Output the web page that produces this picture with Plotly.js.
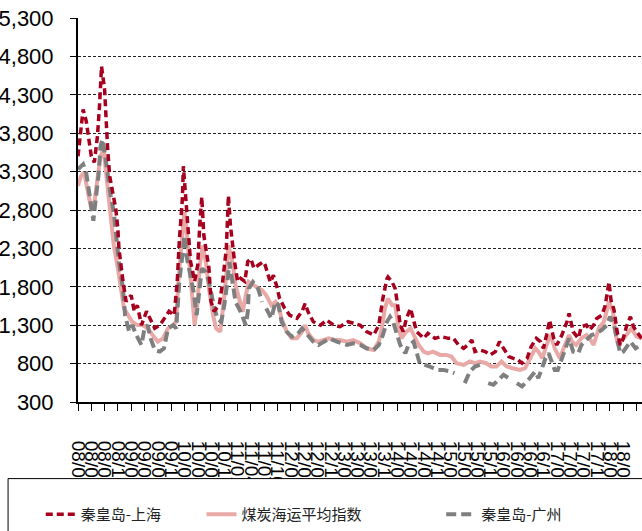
<!DOCTYPE html>
<html><head><meta charset="utf-8">
<script src="https://cdn.plot.ly/plotly-3.0.1.min.js"></script>
<style>html,body{margin:0;padding:0;background:#fff}#chart{width:642px;height:531px}</style>
</head><body><div id="chart"></div>
<script>
// x = weeks since the first observation (early Jan 2008)
const shWeeks = [0,1,3,5,8,11,13,16,19,21,22,23,26,27,29,31,34,37,39,40,44,47,52,55,58,62,67,72,75,80,85,89,94,97,99,102,103,105,107,109,110,114,117,119,121,123,125,128,130,133,138,141,145,147,149,151,153,156,159,163,166,169,172,176,181,183,188,191,194,197,202,207,214,219,222,225,230,237,243,250,256,264,269,276,282,289,294,296,298,302,303,307,310,312,315,318,321,325,328,331,338,342,349,355,362,367,372,377,381,385,388,393,398,403,408,412,416,421,425,430,434,439,443,448,452,455,458,461,465,468,473,478,480,484,489,492,497,500,504,507,512,515,517,519,521,524,527,530,533,536,540,543,546,551];
const shValues = [3500,3630,3850,4110,3960,3720,3500,3420,3760,4150,4460,4670,4370,4020,3590,3240,3030,2810,2550,2300,1870,1610,1690,1480,1560,1300,1480,1350,1260,1300,1390,1480,1430,1870,2390,2940,3370,3030,2600,2300,2130,1870,2080,2600,2970,2470,2300,2040,1610,1480,1560,1820,2300,2985,2600,2300,2130,1870,1910,1870,2130,2165,2040,2080,2125,2080,1860,1950,1820,1650,1520,1430,1390,1480,1580,1470,1345,1300,1366,1300,1280,1345,1323,1300,1216,1172,1300,1474,1647,1906,1928,1863,1777,1604,1301,1216,1388,1518,1345,1216,1129,1194,1129,1151,1129,1129,1042,999,1042,1107,956,977,956,913,956,1086,999,892,870,848,805,870,1021,1129,1086,999,1172,1366,1129,1042,1172,1345,1453,1216,1129,1280,1301,1237,1301,1388,1431,1539,1690,1863,1625,1496,1216,1042,1129,1280,1410,1280,1216,1129];

const idxWeeks = [0,3,6,9,13,16,19,22,25,27,29,32,35,39,42,45,49,53,58,63,68,73,78,83,88,93,96,98,102,104,106,109,112,114,117,119,122,125,128,132,135,139,141,145,147,151,154,158,161,164,167,172,177,180,184,189,193,196,199,204,209,214,219,222,225,230,235,240,245,250,256,263,269,276,282,289,294,297,300,303,307,310,313,316,321,325,328,333,338,342,347,354,360,365,370,377,383,388,393,399,404,409,414,419,425,432,437,442,447,450,454,458,462,466,471,476,480,483,487,492,497,500,504,509,514,517,519,523,525,528,531,536,541,546,551];
const idxValues = [3115,3244,3288,3072,2813,2900,3244,3503,3590,3331,3072,2726,2337,2036,1777,1518,1431,1345,1301,1301,1258,1172,1086,1129,1258,1301,1345,1863,2467,2770,2554,2122,1604,1301,1604,2078,2337,2122,1777,1431,1258,1216,1431,1949,2337,2122,1819,1604,1474,1690,1863,1819,1777,1755,1690,1560,1604,1539,1388,1216,1129,1129,1216,1301,1194,1107,1086,1107,1129,1107,1107,1086,1107,1064,999,977,1086,1258,1518,1647,1560,1560,1301,1129,1216,1258,1172,1042,956,934,956,913,913,892,805,783,827,805,827,805,762,762,827,762,740,718,740,870,999,956,870,1042,1172,999,870,1042,1172,1086,1042,1129,1172,1129,1042,1258,1345,1496,1604,1474,1216,1042,1086,1172,1258,1151,1129];

const gzWeeks = [0,5,8,11,14,15,17,20,22,24,27,29,32,35,37,40,44,46,50,53,57,62,65,68,71,75,80,84,88,93,96,99,102,104,106,109,113,116,119,121,125,128,132,136,140,143,146,148,151,154,159,164,166,167,171,176,180,182,184,189,193,196,199,204,209,214,219,224,230,235,240,246,253,263,269,276,282,289,294,298,302,305,308,311,315,320,323,328,331,334,339,344,351,357,364,368,372,378,383,388,393,397,401,406,411,416,421,425,429,434,439,443,447,450,453,457,460,463,466,469,473,476,480,484,489,492,497,502,507,512,517,520,524,527,530,533,536,540,545,550];
const gzValues = [3331,3396,3288,2985,2726,2661,2900,3244,3633,3720,3461,3244,2985,2770,2467,2122,1777,1431,1216,1301,1172,1042,1258,1301,1129,977,956,999,1258,1301,1258,1863,2208,2467,2208,1993,1734,1431,1863,2036,1993,1863,1604,1388,1345,1560,1863,2122,1863,1604,1474,1301,1474,1777,1863,1777,1604,null,1518,1388,1604,1560,1345,1216,1151,1172,1258,1172,1086,1042,1086,1129,1086,1042,1064,1042,999,977,1042,1172,1345,1410,1345,1216,1042,934,1042,1086,956,805,783,762,718,718,697,675,null,546,697,762,783,null,546,524,589,654,611,null,546,503,568,633,697,611,740,870,934,827,718,718,870,999,1129,956,934,1042,1107,1172,1194,1237,1301,1410,1301,1129,934,956,1021,1086,999,1042];

const tickLabels = ["08/01/04","08/04/04","08/07/04","08/10/04","09/01/04","09/04/04","09/07/04","09/10/04","10/01/04","10/04/04","10/07/04","10/10/04","11/01/04","11/04/04","11/07/04","11/10/04","12/01/04","12/04/04","12/07/04","12/10/04","13/01/04","13/04/04","13/07/04","13/10/04","14/01/04","14/04/04","14/07/04","14/10/04","15/01/04","15/04/04","15/07/04","15/10/04","16/01/04","16/04/04","16/07/04","16/10/04","17/01/04","17/04/04","17/07/04","17/10/04","18/01/04","18/04/04","18/07/04"];
const yTicks = [300,800,1300,1800,2300,2800,3300,3800,4300,4800,5300];
const seriesNames = ["秦皇岛-上海","煤炭海运平均指数","秦皇岛-广州"];

const tickVals = tickLabels.map((_, i) => i * 13);

const traces = [
  {x: idxWeeks, y: idxValues, name: seriesNames[1], type:'scatter', mode:'lines',
   line:{color:'#E9A9A7', width:4}, legend:'legend2', hoverinfo:'skip'},
  {x: gzWeeks, y: gzValues, name: seriesNames[2], type:'scatter', mode:'lines', connectgaps:false,
   line:{color:'#7F7F7F', width:4, dash:'10px,5px'}, legend:'legend3', hoverinfo:'skip'},
  {x: shWeeks, y: shValues, name: seriesNames[0], type:'scatter', mode:'lines',
   line:{color:'#A6001E', width:3.5, dash:'7px,4px'}, legend:'legend', hoverinfo:'skip'}
];

const legFont = {family:'Noto Sans CJK SC, sans-serif', size:15, color:'#222'};
const legBase = {orientation:'h', yanchor:'middle', xanchor:'left', y:-0.293,
  bgcolor:'rgba(0,0,0,0)', borderwidth:0, font:legFont};

const layout = {
  width:642, height:531,
  margin:{l:78, r:0, t:18, b:127, pad:0},
  paper_bgcolor:'#fff', plot_bgcolor:'#fff',
  showlegend:true,
  xaxis:{range:[0,551.3], tickmode:'array', tickvals:tickVals, ticktext:tickLabels,
    tickangle:90, ticks:'outside', ticklen:7, tickcolor:'#000', tickwidth:1,
    showline:true, linecolor:'#000', linewidth:2, showgrid:false, zeroline:false,
    tickfont:{family:'Liberation Sans, Arial, sans-serif', size:19, color:'#000'},
    ticklabelstandoff:26, fixedrange:true},
  yaxis:{range:[300,5300], tickmode:'array', tickvals:yTicks, tickformat:',',
    ticks:'outside', ticklen:6, tickcolor:'#000', tickwidth:1,
    showline:true, linecolor:'#000', linewidth:2,
    showgrid:true, gridcolor:'#222', gridwidth:1, griddash:'3px,2px', zeroline:false,
    tickfont:{family:'Liberation Sans Narrow, Arial Narrow, Liberation Sans, sans-serif', size:22, color:'#000'},
    ticklabelstandoff:12, fixedrange:true},
  shapes:[{type:'rect', xref:'paper', yref:'paper', x0:-0.124, x1:1.1, y0:-0.1995, y1:-0.45,
    line:{color:'#000', width:1}, fillcolor:'#fff', layer:'above'}],
  legend: Object.assign({}, legBase, {x:-0.066}),
  legend2: Object.assign({}, legBase, {x:0.219}),
  legend3: Object.assign({}, legBase, {x:0.644})
};

Plotly.newPlot('chart', traces, layout, {displayModeBar:false, staticPlot:true});
</script></body></html>
